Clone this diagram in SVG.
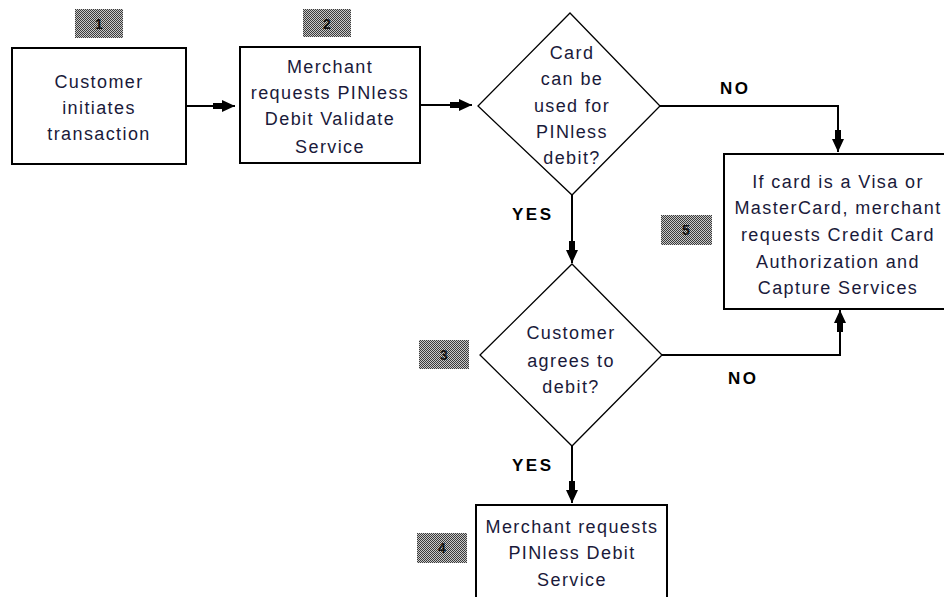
<svg xmlns="http://www.w3.org/2000/svg" width="944" height="597" viewBox="0 0 944 597">
<defs>
<pattern id="dither" width="2" height="2" patternUnits="userSpaceOnUse">
<rect width="2" height="2" fill="#c8c8c8"/>
<rect width="1" height="1" fill="#3a3a3a"/>
<rect x="1" y="1" width="1" height="1" fill="#3a3a3a"/>
</pattern>
<marker id="arr" markerUnits="userSpaceOnUse" markerWidth="24" markerHeight="14" refX="22" refY="7" orient="auto">
<path d="M0,4 L9,4 L9,1 L22,7 L9,13 L9,10 L0,10 Z" fill="#000"/>
</marker>
</defs>
<style>
.box{fill:#fff;stroke:#000;stroke-width:2}
.dia{fill:#fff;stroke:#000;stroke-width:1.3}
.t{font-family:"Liberation Sans",Arial,sans-serif;font-size:18px;letter-spacing:1.4px;fill:#1a1a3a;text-anchor:middle}
.lbl{font-family:"Liberation Sans",Arial,sans-serif;font-size:17px;font-weight:bold;letter-spacing:2.5px;fill:#000}
.badge{fill:url(#dither)}
.num{font-family:"Liberation Sans",Arial,sans-serif;font-size:14px;font-weight:bold;fill:#111;text-anchor:middle}
.con{fill:none;stroke:#000;stroke-width:2}
</style>
<rect width="944" height="597" fill="#fff"/>

<g id="connectors">
<path class="con" d="M186,106 H235" marker-end="url(#arr)"/>
<path class="con" d="M420,105 H472" marker-end="url(#arr)"/>
<path class="con" d="M660,106 H838 V152" marker-end="url(#arr)"/>
<path class="con" d="M572,195 V263" marker-end="url(#arr)"/>
<path class="con" d="M662,355 H840 V310" marker-end="url(#arr)"/>
<path class="con" d="M572,446 V503" marker-end="url(#arr)"/>
<text class="lbl" x="720" y="94">NO</text>
<text class="lbl" x="512" y="220">YES</text>
<text class="lbl" x="728" y="384">NO</text>
<text class="lbl" x="512" y="471">YES</text>
</g>

<g id="node1">
<rect class="badge" x="75" y="9" width="48" height="29"/>
<text class="num" x="99" y="29">1</text>
<rect class="box" x="12" y="48" width="174" height="116"/>
<text class="t" x="99" y="88">Customer</text>
<text class="t" x="99" y="114">initiates</text>
<text class="t" x="99" y="140">transaction</text>
</g>

<g id="node2">
<rect class="badge" x="303" y="9" width="48" height="28"/>
<text class="num" x="327" y="29">2</text>
<rect class="box" x="240" y="47" width="180" height="116"/>
<text class="t" x="330" y="73">Merchant</text>
<text class="t" x="330" y="99">requests PINless</text>
<text class="t" x="330" y="125">Debit Validate</text>
<text class="t" x="330" y="153">Service</text>
</g>

<g id="decision1">
<polygon class="dia" points="570,13 660,106 572,195 478,106"/>
<text class="t" x="572" y="59">Card</text>
<text class="t" x="572" y="85">can be</text>
<text class="t" x="572" y="112">used for</text>
<text class="t" x="572" y="138">PINless</text>
<text class="t" x="572" y="164">debit?</text>
</g>

<g id="node5">
<rect class="badge" x="661" y="215" width="51" height="30"/>
<text class="num" x="686" y="235">5</text>
<rect class="box" x="724" y="154" width="240" height="155"/>
<text class="t" x="838" y="188">If card is a Visa or</text>
<text class="t" x="838" y="214">MasterCard, merchant</text>
<text class="t" x="838" y="241">requests Credit Card</text>
<text class="t" x="838" y="268">Authorization and</text>
<text class="t" x="838" y="294">Capture Services</text>
</g>

<g id="decision2">
<rect class="badge" x="419" y="340" width="50" height="29"/>
<text class="num" x="444" y="360">3</text>
<polygon class="dia" points="572,264 662,355 572,446 480,355"/>
<text class="t" x="571" y="339">Customer</text>
<text class="t" x="571" y="367">agrees to</text>
<text class="t" x="571" y="393">debit?</text>
</g>

<g id="node4">
<rect class="badge" x="417" y="533" width="50" height="30"/>
<text class="num" x="442" y="553">4</text>
<rect class="box" x="476" y="505" width="191" height="100"/>
<text class="t" x="572" y="533">Merchant requests</text>
<text class="t" x="572" y="559">PINless Debit</text>
<text class="t" x="572" y="586">Service</text>
</g>
</svg>
